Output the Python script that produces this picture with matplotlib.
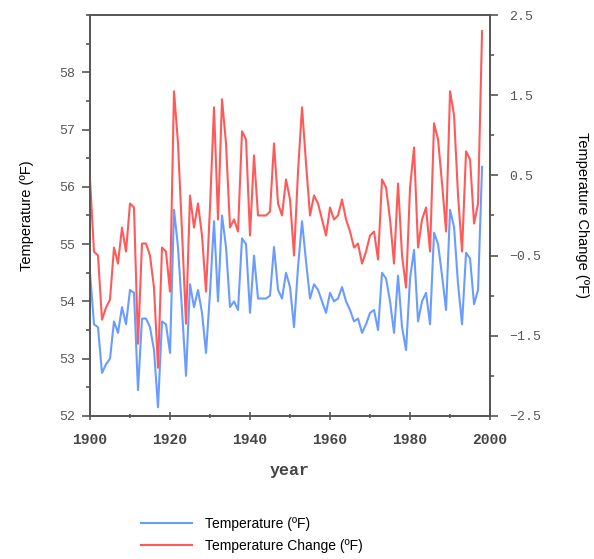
import numpy as np
import matplotlib
matplotlib.use("Agg")
import matplotlib.pyplot as plt
from matplotlib.ticker import MultipleLocator

years = list(range(1900, 1999))

# annual mean temperature (F)
temperature = [
    54.5, 53.6, 53.55, 52.75, 52.9, 53.0, 53.65, 53.45, 53.9, 53.6,
    54.2, 54.15, 52.45, 53.7, 53.7, 53.55, 53.15, 52.15, 53.65, 53.6,
    53.1, 55.6, 54.95, 53.85, 52.7, 54.3, 53.9, 54.2, 53.8, 53.1,
    54.15, 55.4, 54.0, 55.5, 54.95, 53.9, 54.0, 53.85, 55.1, 55.0,
    53.8, 54.8, 54.05, 54.05, 54.05, 54.1, 54.95, 54.2, 54.05, 54.5,
    54.25, 53.55, 54.6, 55.4, 54.7, 54.05, 54.3, 54.2, 54.0, 53.8,
    54.15, 54.0, 54.05, 54.25, 54.0, 53.85, 53.65, 53.7, 53.45, 53.6,
    53.8, 53.85, 53.5, 54.5, 54.4, 54.0, 53.45, 54.45, 53.55, 53.15,
    54.4, 54.9, 53.65, 54.0, 54.15, 53.6, 55.2, 55.0, 54.45, 53.85,
    55.6, 55.3, 54.3, 53.6, 54.85, 54.75, 53.95, 54.2, 56.35,
]

# temperature change (F), right axis
change = [
    0.45, -0.45, -0.5, -1.3, -1.15, -1.05, -0.4, -0.6, -0.15, -0.45,
    0.15, 0.1, -1.6, -0.35, -0.35, -0.5, -0.9, -1.9, -0.4, -0.45,
    -0.95, 1.55, 0.9, -0.2, -1.35, 0.25, -0.15, 0.15, -0.25, -0.95,
    0.1, 1.35, -0.05, 1.45, 0.9, -0.15, -0.05, -0.2, 1.05, 0.95,
    -0.25, 0.75, 0.0, 0.0, 0.0, 0.05, 0.9, 0.15, 0.0, 0.45,
    0.2, -0.5, 0.55, 1.35, 0.65, 0.0, 0.25, 0.15, -0.05, -0.25,
    0.1, -0.05, 0.0, 0.2, -0.05, -0.2, -0.4, -0.35, -0.6, -0.45,
    -0.25, -0.2, -0.55, 0.45, 0.35, -0.05, -0.6, 0.4, -0.5, -0.9,
    0.35, 0.85, -0.4, -0.05, 0.1, -0.45, 1.15, 0.95, 0.4, -0.2,
    1.55, 1.25, 0.25, -0.45, 0.8, 0.7, -0.1, 0.15, 2.3,
]

blue = "#6a9cff"
red = "#ff5a5a"
grey = "#555555"
mono = "Liberation Mono"
sans = "Liberation Sans"

fig = plt.figure(figsize=(5.94, 5.59), dpi=100)
ax = fig.add_axes([0.1515, 0.256, 0.6735, 0.717])
ax2 = ax.twinx()

l1, = ax.plot(years, temperature, color=blue, lw=1.5, label="Temperature (ºF)")
l2, = ax2.plot(years, change, color=red, lw=1.5, label="Temperature Change (ºF)")

ax.set_xlim(1900, 2000)
ax.set_ylim(52, 59)
ax2.set_ylim(-2.5, 2.5)

ax.xaxis.set_major_locator(MultipleLocator(20))
ax.xaxis.set_minor_locator(MultipleLocator(10))
ax.yaxis.set_minor_locator(MultipleLocator(0.5))
ax.set_yticks([52, 53, 54, 55, 56, 57, 58])
ax2.set_yticks([-2.5, -1.5, -0.5, 0.5, 1.5, 2.5])
ax2.yaxis.set_minor_locator(MultipleLocator(0.5))

for a in (ax, ax2):
    for s in a.spines.values():
        s.set_color(grey)
        s.set_linewidth(1.2)
    a.tick_params(which="major", length=6, width=1.2, color=grey, labelcolor="#555555", labelsize=9.5, pad=5)
    a.tick_params(which="minor", length=3, width=1.2, color=grey)
    for lab in a.get_yticklabels() + a.get_xticklabels():
        lab.set_fontfamily(mono)

ax2.tick_params(axis="y", pad=8)
ax.tick_params(axis="x", which="both", direction="inout", pad=9)
ax.tick_params(axis="x", labelsize=10.5, labelcolor="#444444")
for lab in ax.get_xticklabels():
    lab.set_fontweight("bold")

ax.set_xlabel("year", fontfamily=mono, fontsize=12, color="#444444", fontweight="bold", labelpad=12)
ax.set_ylabel("Temperature (ºF)", fontfamily=sans, fontsize=10.5, color="black", labelpad=18)
ax2.set_ylabel("Temperature Change (ºF)", fontfamily=sans, fontsize=10.5, color="black",
               rotation=270, labelpad=34)

fig.legend(handles=[l1, l2], loc="upper left", bbox_to_anchor=(0.228, 0.085),
           frameon=False, prop={"family": sans, "size": 10}, handlelength=3.7,
           handletextpad=0.9, labelspacing=0.55, borderaxespad=0)

fig.savefig("out.png", dpi=100)
